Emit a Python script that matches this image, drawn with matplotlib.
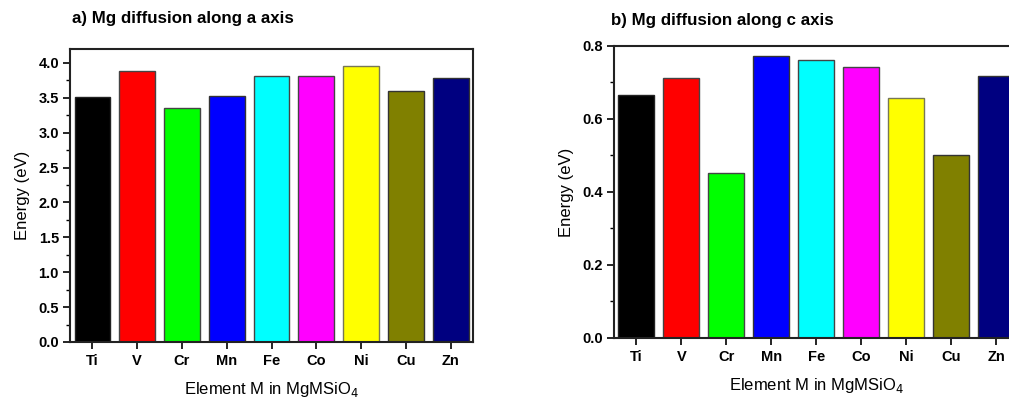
import numpy as np
import matplotlib.pyplot as plt
from matplotlib.ticker import MultipleLocator

plt.rcParams['font.family'] = ['Liberation Sans', 'DejaVu Sans']

# -----------------------------------------------------------------------
# Data
# -----------------------------------------------------------------------
elements = ["Ti", "V", "Cr", "Mn", "Fe", "Co", "Ni", "Cu", "Zn"]
energy_a = [3.51, 3.88, 3.35, 3.52, 3.81, 3.81, 3.96, 3.60, 3.78]
energy_c = [0.665, 0.711, 0.451, 0.773, 0.761, 0.742, 0.658, 0.501, 0.719]
bar_colors = ["#000000", "#ff0000", "#00ff00", "#0000ff", "#00ffff",
              "#ff00ff", "#ffff00", "#808000", "#000080"]
edge_colors = ["#222222", "#444444", "#444444", "#333333", "#444444",
               "#444444", "#777755", "#333333", "#333333"]


def style_axes(ax, ymax, major, minor):
    x = np.arange(len(elements))
    ax.set_xticks(x)
    ax.set_xticklabels(elements, fontweight="bold", fontsize=10.5)
    ax.set_xlim(-0.5, len(elements) - 0.5)
    ax.set_ylim(0, ymax)
    ax.yaxis.set_major_locator(MultipleLocator(major))
    ax.yaxis.set_minor_locator(MultipleLocator(minor))
    ax.yaxis.set_major_formatter(plt.FormatStrFormatter("%.1f"))
    ax.tick_params(axis="y", which="major", direction="out", length=5,
                   width=1.2, labelsize=10.5, pad=3)
    ax.tick_params(axis="y", which="minor", direction="out", length=3, width=1)
    ax.tick_params(axis="x", which="major", direction="out", length=5,
                   width=1.2, pad=4)
    for lab in ax.get_yticklabels():
        lab.set_fontweight("bold")
    for sp in ax.spines.values():
        sp.set_linewidth(1.5)
        sp.set_color("#222222")
    ax.set_ylabel("Energy (eV)", fontsize=12, labelpad=6)
    ax.set_xlabel("Element M in MgMSiO$_4$", fontsize=12, labelpad=8)


fig = plt.figure(figsize=(10.09, 4.03), dpi=100)

# a) diffusion along a axis
ax1 = fig.add_axes([0.0694, 0.1514, 0.3994, 0.727])
ax1.bar(np.arange(len(elements)), energy_a, width=0.8, color=bar_colors,
        edgecolor=edge_colors, linewidth=1)
style_axes(ax1, 4.2, 0.5, 0.25)

# b) diffusion along c axis (right edge runs off the figure, as in the source)
ax2 = fig.add_axes([0.6085, 0.1613, 0.4014, 0.7246])
ax2.bar(np.arange(len(elements)), energy_c, width=0.8, color=bar_colors,
        edgecolor=edge_colors, linewidth=1)
style_axes(ax2, 0.8, 0.2, 0.1)

fig.text(72 / 1009, 1 - 18 / 403, "a) Mg diffusion along a axis",
         fontsize=12.2, fontweight="bold", va="center", ha="left")
fig.text(611 / 1009, 1 - 20 / 403, "b) Mg diffusion along c axis",
         fontsize=12.2, fontweight="bold", va="center", ha="left")

fig.savefig("out.png", dpi=100)
